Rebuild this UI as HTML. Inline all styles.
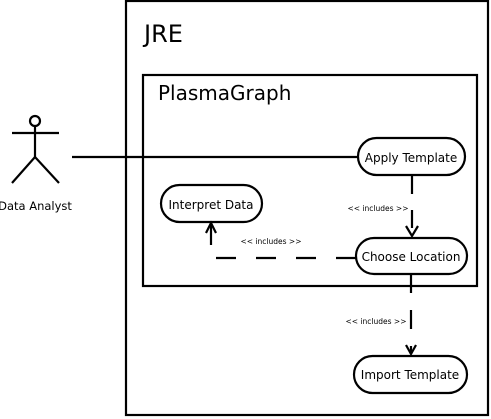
<!DOCTYPE html>
<html><head><meta charset="utf-8"><style>body{margin:0;background:#fff}svg{display:block}</style></head><body>
<svg width="491" height="419" xmlns="http://www.w3.org/2000/svg" font-family="'DejaVu Sans', 'Liberation Sans', sans-serif" fill="none" stroke="#000" stroke-width="2.2">
<rect x="126" y="1" width="362" height="414"/>
<text x="144" y="42" font-size="24" fill="#000" stroke="none">JRE</text>
<rect x="143" y="75" width="334" height="211"/>
<text x="158" y="100" font-size="20" fill="#000" stroke="none">PlasmaGraph</text>
<circle cx="35" cy="121" r="5"/>
<line x1="12" y1="133" x2="59" y2="133"/><line x1="35" y1="126" x2="35" y2="157"/>
<polyline points="12,183 35,157 59,183"/>
<text x="35" y="210" font-size="11.5" fill="#000" stroke="none" text-anchor="middle">Data Analyst</text>
<line x1="72" y1="157" x2="358" y2="157"/>
<rect x="358" y="138" width="107" height="37" rx="18.5"/>
<text x="411" y="162" font-size="12" fill="#000" stroke="none" text-anchor="middle">Apply Template</text>
<rect x="161" y="185" width="101" height="37" rx="18.5"/>
<text x="211" y="209" font-size="12" fill="#000" stroke="none" text-anchor="middle">Interpret Data</text>
<rect x="356" y="238" width="111" height="36" rx="18"/>
<text x="411" y="261" font-size="12" fill="#000" stroke="none" text-anchor="middle">Choose Location</text>
<rect x="354" y="356" width="113" height="37" rx="18.5"/>
<text x="410" y="379" font-size="12" fill="#000" stroke="none" text-anchor="middle">Import Template</text>
<line x1="412" y1="176" x2="412" y2="237" stroke-dasharray="18,16"/>
<polyline points="406,226 412,236 418,226"/>
<text x="378" y="211" font-size="7.5" fill="#000" stroke="none" text-anchor="middle">&lt;&lt; includes &gt;&gt;</text>
<polyline points="356,258 210,258" stroke-dasharray="20,20"/>
<line x1="211" y1="245" x2="211" y2="223"/>
<polyline points="206,233 211,223 216,233"/>
<text x="271" y="244" font-size="7.5" fill="#000" stroke="none" text-anchor="middle">&lt;&lt; includes &gt;&gt;</text>
<line x1="411" y1="274" x2="411" y2="354" stroke-dasharray="19,17"/>
<polyline points="406,345 411,354 416,345"/>
<text x="376" y="324" font-size="7.5" fill="#000" stroke="none" text-anchor="middle">&lt;&lt; includes &gt;&gt;</text>
</svg>
</body></html>
